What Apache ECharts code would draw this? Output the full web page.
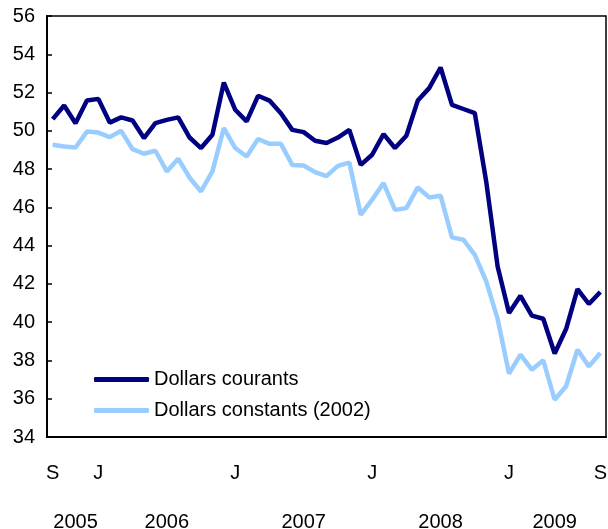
<!DOCTYPE html>
<html><head><meta charset="utf-8">
<script src="https://cdn.jsdelivr.net/npm/echarts/dist/echarts.min.js"></script>
<style>html,body{margin:0;padding:0;background:#fff}#c{width:608px;height:529px}</style>
</head><body><div id="c"></div>
<script>
// Monthly categories Sep 2005 .. Sep 2009
const categories = [];
for (let y = 2005, m = 9; y < 2009 || (y === 2009 && m <= 9); ) {
  categories.push(y + '-' + String(m).padStart(2, '0'));
  m++; if (m > 12) { m = 1; y++; }
}
const seriesNames = ['Dollars courants', 'Dollars constants (2002)'];
const currentDollars = [50.61, 51.32, 50.40, 51.58, 51.67, 50.43, 50.70, 50.54, 49.62, 50.40, 50.57, 50.70, 49.65,
  49.10, 49.79, 52.52, 51.10, 50.49, 51.83, 51.58, 50.92, 50.05, 49.93, 49.48, 49.36,
  49.65, 50.05, 48.22, 48.75, 49.83, 49.10, 49.74, 51.58, 52.23, 53.31, 51.36, 51.14,
  50.92, 47.35, 42.91, 40.48, 41.38, 40.34, 40.18, 38.36, 39.64, 41.73, 40.95, 41.58];
const constantDollars = [49.27, 49.18, 49.13, 49.96, 49.91, 49.67, 50.00, 49.04, 48.80, 48.96, 47.88, 48.54, 47.55,
  46.83, 47.88, 50.14, 49.10, 48.66, 49.57, 49.32, 49.32, 48.22, 48.19, 47.84, 47.63,
  48.17, 48.34, 45.61, 46.40, 47.27, 45.87, 45.96, 47.04, 46.52, 46.61, 44.43, 44.31,
  43.52, 42.13, 40.17, 37.31, 38.30, 37.52, 38.01, 35.95, 36.65, 38.56, 37.69, 38.39];
const monthTickIdx = [0, 4, 16, 28, 40, 48];
const monthTickText = ['S', 'J', 'J', 'J', 'J', 'S'];
const yearLabelIdx = [2, 10, 22, 34, 44];
const yearLabelText = ['2005', '2006', '2007', '2008', '2009'];

const monthMap = {}; monthTickIdx.forEach((k, i) => monthMap[k] = monthTickText[i]);
const yearMap = {}; yearLabelIdx.forEach((k, i) => yearMap[k] = yearLabelText[i]);

const FONT = '"Liberation Sans", Arial, sans-serif';
const colors = ['#000080', '#99CCFF'];
const chart = echarts.init(document.getElementById('c'), null, {renderer: 'canvas'});
chart.setOption({
  animation: false,
  backgroundColor: '#fff',
  grid: {left: 47, right: 2, top: 16, bottom: 92, show: true, borderColor: '#000', borderWidth: 1.5,
    backgroundColor: 'transparent', containLabel: false, outerBoundsMode: 'none'},
  legend: {
    orient: 'vertical', left: 89, top: 362, itemWidth: 55, itemHeight: 5, itemGap: 6,
    textStyle: {fontFamily: FONT, fontSize: 20, color: '#000', lineHeight: 25},
    data: seriesNames.map((n, i) => ({name: n, icon: 'roundRect', itemStyle: {color: colors[i]}}))
  },
  xAxis: [{
    type: 'category', data: categories, boundaryGap: true, position: 'bottom',
    axisLine: {lineStyle: {color: '#000', width: 2}},
    axisTick: {inside: true, length: 5, interval: 0, lineStyle: {color: '#000', width: 1}},
    axisLabel: {interval: 0, margin: 26, fontFamily: FONT, fontSize: 20, color: '#000',
      formatter: (v, i) => monthMap[i] || ''},
    splitLine: {show: false}
  }, {
    type: 'category', data: categories, boundaryGap: true, position: 'bottom',
    axisLine: {show: false}, axisTick: {show: false},
    axisLabel: {interval: 0, margin: 75, fontFamily: FONT, fontSize: 20, color: '#000',
      formatter: (v, i) => yearMap[i] || ''},
    splitLine: {show: false}
  }],
  yAxis: {
    type: 'value', min: 34, max: 56, interval: 2,
    axisLine: {show: true, lineStyle: {color: '#000', width: 2}},
    axisTick: {show: true, inside: true, length: 5, lineStyle: {color: '#000', width: 1.5}},
    axisLabel: {margin: 12, fontFamily: FONT, fontSize: 20, color: '#000'},
    splitLine: {show: false}
  },
  series: [{
    name: seriesNames[0], type: 'line', data: currentDollars, symbol: 'none',
    lineStyle: {color: colors[0], width: 4.5}, itemStyle: {color: colors[0]}
  }, {
    name: seriesNames[1], type: 'line', data: constantDollars, symbol: 'none',
    lineStyle: {color: colors[1], width: 4.5}, itemStyle: {color: colors[1]}
  }]
});
</script></body></html>
